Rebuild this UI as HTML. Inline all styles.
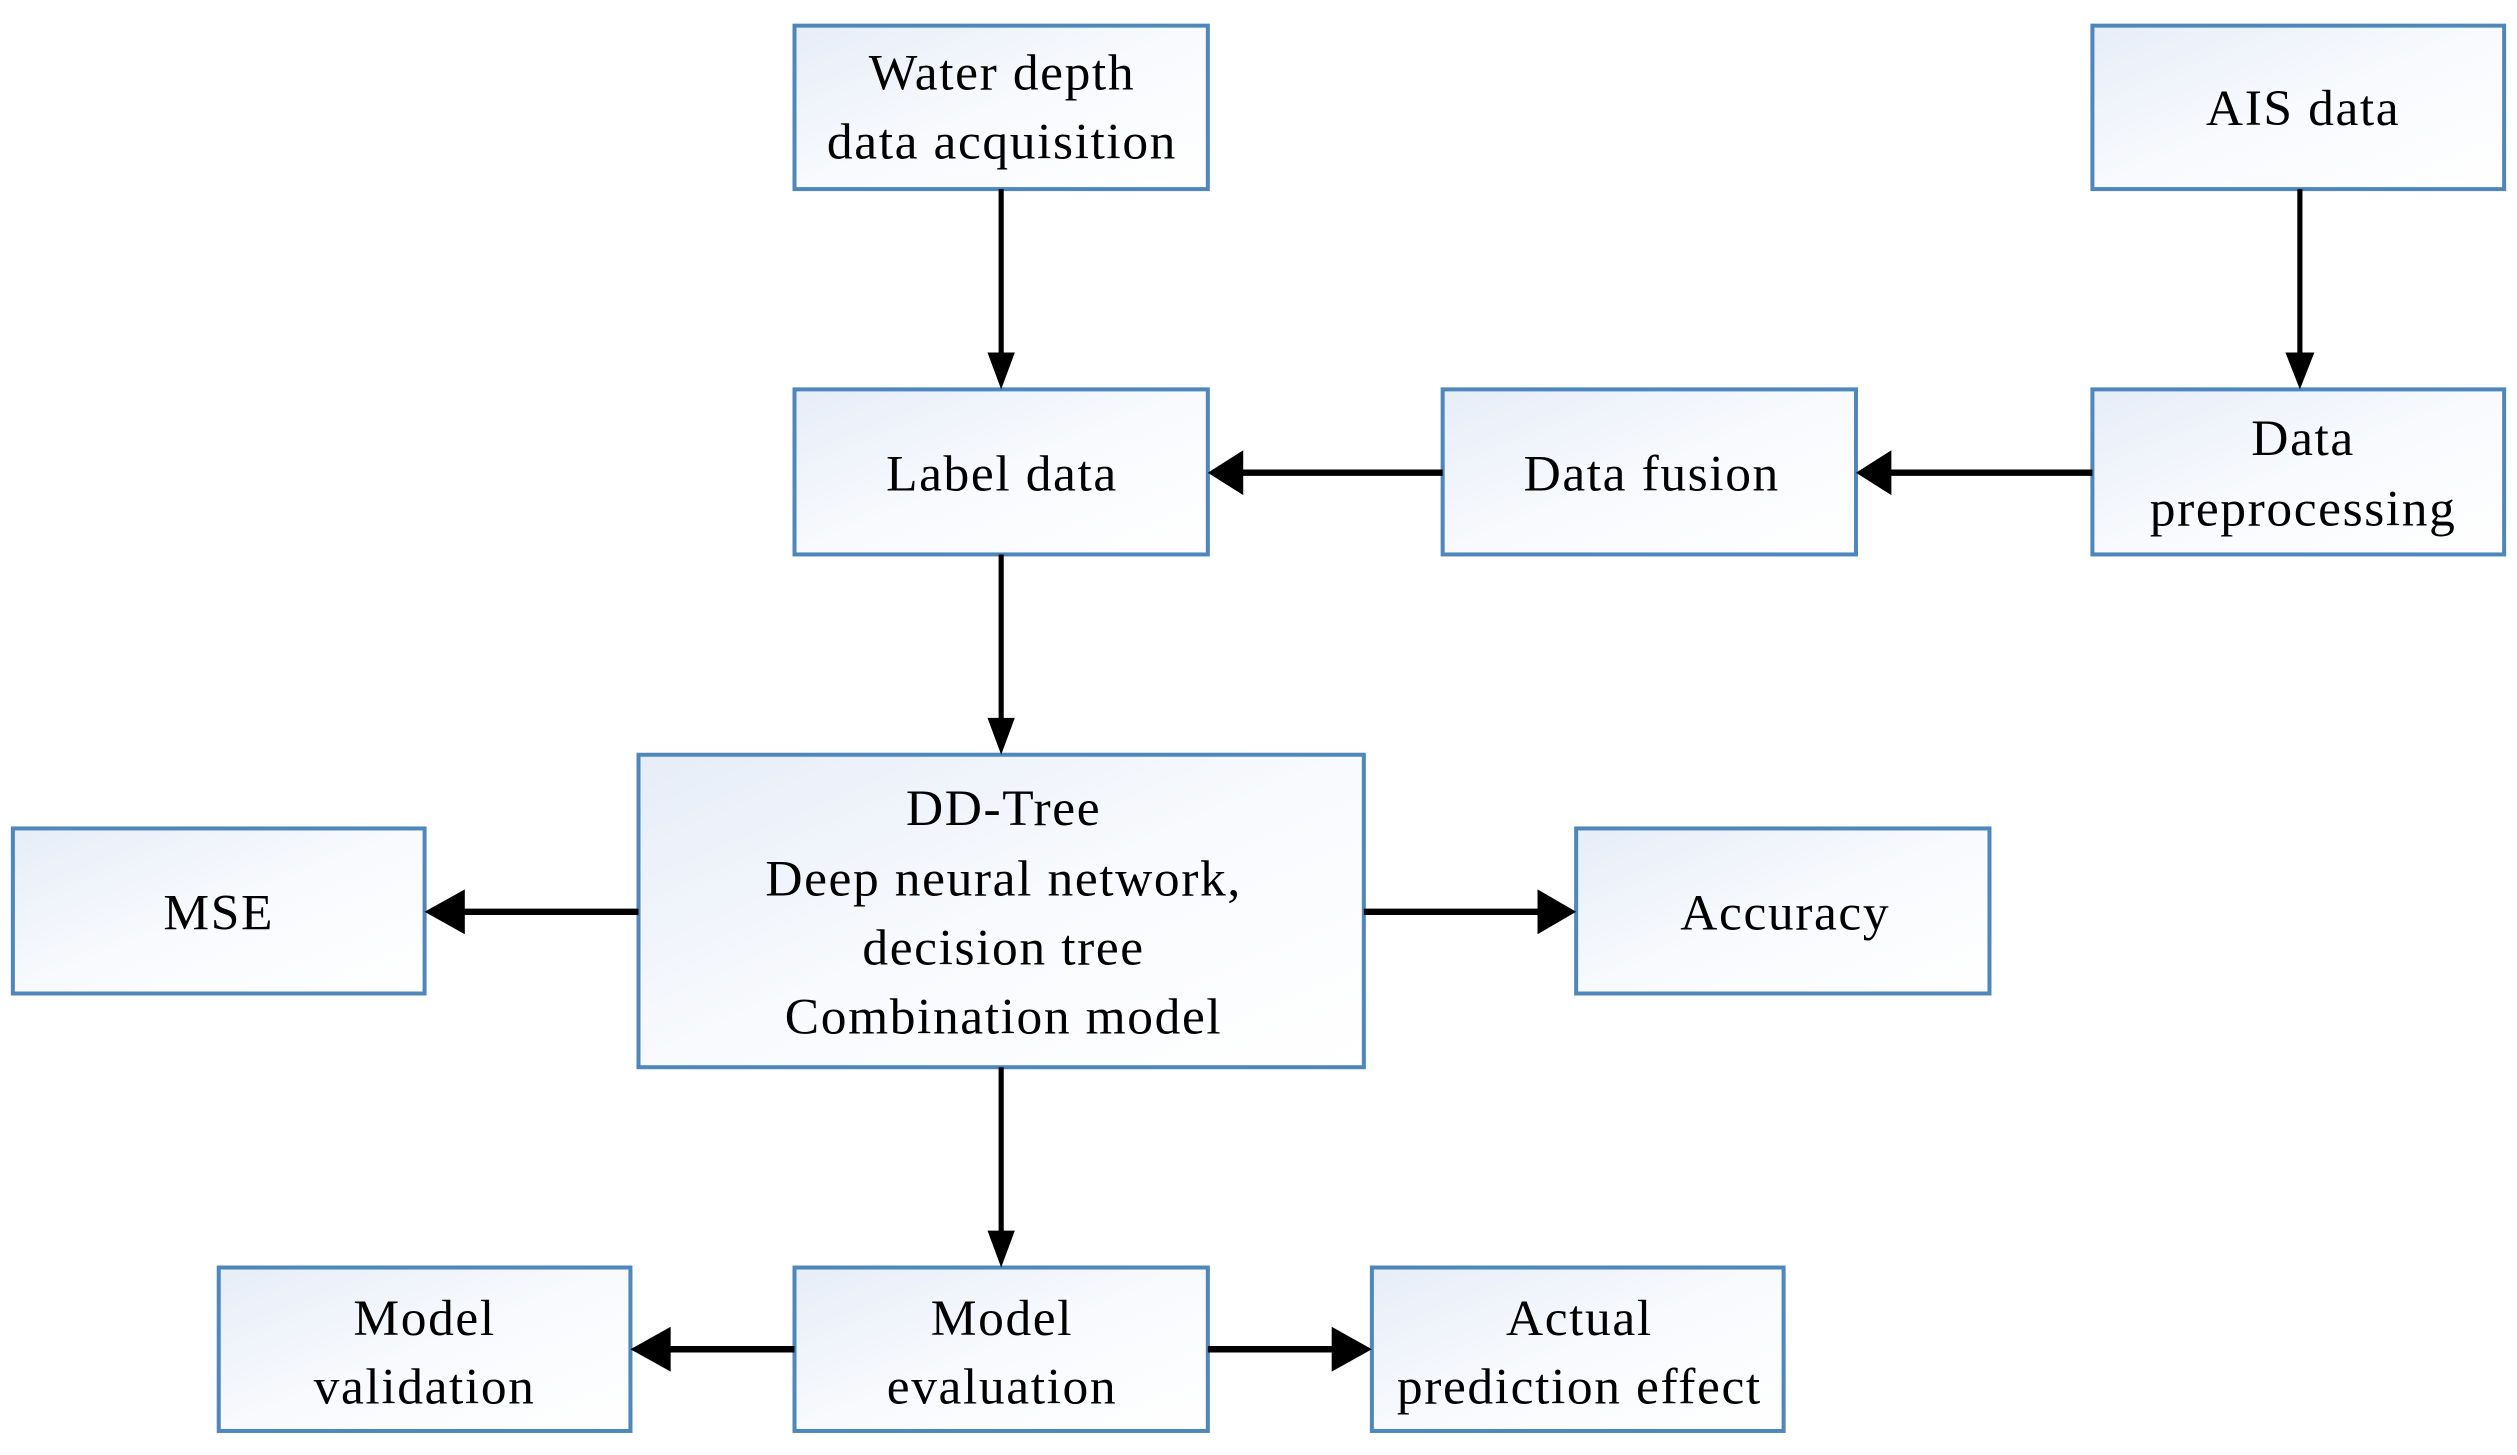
<!DOCTYPE html>
<html><head><meta charset="utf-8"><style>
html,body{margin:0;padding:0;background:#fff;}
svg{display:block;}
text{font-family:"Liberation Serif",serif;font-size:32px;letter-spacing:1px;fill:#000;text-anchor:middle;}
</style></head><body>
<svg width="2517" height="1455" viewBox="0 0 1565 908" preserveAspectRatio="none" xmlns="http://www.w3.org/2000/svg">
<defs>
<linearGradient id="g" x1="0" y1="0" x2="1" y2="1">
<stop offset="0" stop-color="#e6edf8"/><stop offset="0.5" stop-color="#f8fafd"/><stop offset="1" stop-color="#ffffff"/>
</linearGradient>
</defs>
<g fill="url(#g)" stroke="#4f87bb" stroke-width="2.5">
<rect x="494" y="16" width="257" height="102"/>
<rect x="1301" y="16" width="256" height="102"/>
<rect x="494" y="243" width="257" height="103"/>
<rect x="897" y="243" width="257" height="103"/>
<rect x="1301" y="243" width="256" height="103"/>
<rect x="397" y="471" width="451" height="195"/>
<rect x="8" y="517" width="256" height="103"/>
<rect x="980" y="517" width="257" height="103"/>
<rect x="136" y="791" width="256" height="102"/>
<rect x="494" y="791" width="257" height="102"/>
<rect x="853" y="791" width="256" height="102"/>
</g>
<g stroke="#000" stroke-width="3.2" fill="none">
<line x1="622.5" y1="118" x2="622.5" y2="222"/>
<line x1="1430" y1="118" x2="1430" y2="222"/>
<line x1="622.5" y1="346" x2="622.5" y2="450"/>
<line x1="622.5" y1="666" x2="622.5" y2="770"/>
</g>
<g stroke="#000" stroke-width="4" fill="none">
<line x1="1301" y1="295" x2="1175" y2="295"/>
<line x1="897" y1="295" x2="772" y2="295"/>
<line x1="397" y1="569" x2="285" y2="569"/>
<line x1="848" y1="569" x2="960" y2="569"/>
<line x1="494" y1="842" x2="412" y2="842"/>
<line x1="751" y1="842" x2="833" y2="842"/>
</g>
<g fill="#000">
<polygon points="614,220 631,220 622.5,243"/>
<polygon points="1421,220 1439,220 1430,243"/>
<polygon points="614,448 631,448 622.5,471"/>
<polygon points="614,768 631,768 622.5,791"/>
<polygon points="1176,281 1176,309 1154,295"/>
<polygon points="773,281 773,309 751,295"/>
<polygon points="289,555 289,583 264,569"/>
<polygon points="956,555 956,583 980,569"/>
<polygon points="417,828 417,856 392,842"/>
<polygon points="828,828 828,856 853,842"/>
</g>
<text x="623" y="56">Water depth</text>
<text x="623" y="99">data acquisition</text>
<text x="1432" y="78">AIS data</text>
<text x="623" y="306">Label data</text>
<text x="1027" y="306">Data fusion</text>
<text x="1432" y="284">Data</text>
<text x="1432" y="328">preprocessing</text>
<text x="624" y="515">DD-Tree</text>
<text x="624" y="559">Deep neural network,</text>
<text x="624" y="602">decision tree</text>
<text x="624" y="645">Combination model</text>
<text x="136" y="580">MSE</text>
<text x="1110" y="580">Accuracy</text>
<text x="264" y="833">Model</text>
<text x="264" y="876">validation</text>
<text x="623" y="833">Model</text>
<text x="623" y="876">evaluation</text>
<text x="982" y="833">Actual</text>
<text x="982" y="876">prediction effect</text>
</svg>
</body></html>
